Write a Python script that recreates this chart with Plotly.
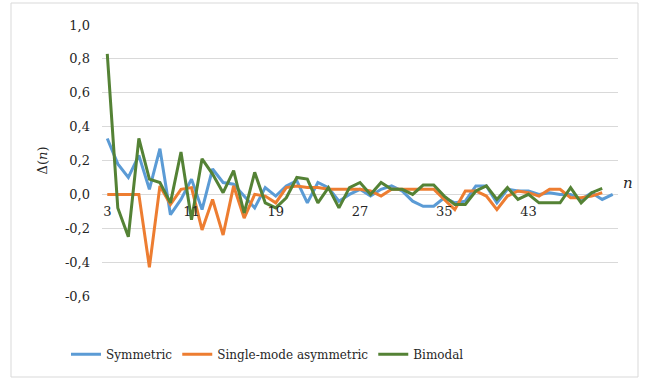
import plotly.graph_objects as go

n_values = list(range(3, 52))
x_tick_values = [3, 11, 19, 27, 35, 43]

symmetric = [0.33, 0.18, 0.10, 0.23, 0.03, 0.27, -0.12, -0.03, 0.09, -0.09,
             0.15, 0.07, 0.06, -0.01, -0.08, 0.04, -0.01, 0.05, 0.08, -0.05,
             0.07, 0.04, -0.04, 0.00, 0.03, -0.01, 0.03, 0.05, 0.02, -0.04,
             -0.07, -0.07, -0.02, -0.05, -0.04, 0.05, 0.05, -0.05, 0.03, 0.02,
             0.02, 0.00, 0.01, 0.00, 0.00, -0.03, 0.01, -0.03, 0.00]

single_mode = [0.00, 0.00, 0.00, 0.00, -0.43, 0.05, -0.06, 0.03, 0.04, -0.21,
               -0.03, -0.24, 0.05, -0.14, 0.00, -0.01, -0.05, 0.04, 0.05, 0.04,
               0.04, 0.03, 0.03, 0.03, 0.03, 0.02, -0.01, 0.03, 0.03, 0.03,
               0.03, 0.03, -0.03, -0.09, 0.02, 0.02, -0.01, -0.09, -0.01, 0.02,
               0.01, -0.01, 0.03, 0.03, -0.02, -0.02, -0.01, 0.01]

bimodal = [0.83, -0.08, -0.25, 0.33, 0.09, 0.07, -0.05, 0.25, -0.15, 0.21,
           0.12, 0.01, 0.14, -0.11, 0.13, -0.05, -0.08, -0.02, 0.10, 0.09,
           -0.05, 0.04, -0.08, 0.04, 0.07, 0.00, 0.07, 0.03, 0.03, 0.00,
           0.055, 0.055, -0.01, -0.06, -0.06, 0.02, 0.05, -0.03, 0.04, -0.03,
           0.00, -0.05, -0.05, -0.05, 0.04, -0.05, 0.01, 0.035]

series_names = ["Symmetric", "Single-mode asymmetric", "Bimodal"]
series_colors = ["#5B9BD5", "#ED7D31", "#548235"]
series_data = [symmetric, single_mode, bimodal]

y_ticks = [-0.6, -0.4, -0.2, 0.0, 0.2, 0.4, 0.6, 0.8, 1.0]
y_tick_labels = ["-0,6", "-0,4", "-0,2", "0,0", "0,2", "0,4", "0,6", "0,8", "1,0"]

FONT = "DejaVu Serif"
TXT = "#262626"

fig = go.Figure()
for name, color, vals in zip(series_names, series_colors, series_data):
    fig.add_trace(go.Scatter(
        x=n_values[:len(vals)], y=vals, mode="lines", name=name,
        line=dict(color=color, width=3),
    ))

y_lo, y_hi = -0.6, 1.0
plot_w, plot_h = 648 - 102 - 30, 381 - 25 - 85
fig.update_layout(
    width=648, height=381,
    margin=dict(l=102, r=30, t=25, b=85),
    paper_bgcolor="white", plot_bgcolor="white",
    font=dict(family=FONT, size=13, color=TXT),
    showlegend=True,
    legend=dict(orientation="h", x=(66 - 102) / plot_w, xanchor="left",
                y=-0.215, yanchor="middle",
                font=dict(family=FONT, size=12, color=TXT), itemwidth=30,
                bgcolor="rgba(0,0,0,0)"),
    xaxis=dict(
        range=[2.5, 51.5], tickvals=x_tick_values,
        showgrid=False, zeroline=False, showline=False,
        anchor="free", position=(0 - y_lo) / (y_hi - y_lo),
        ticks="", ticklabelstandoff=8,
        tickfont=dict(family=FONT, size=13, color=TXT),
    ),
    yaxis=dict(
        range=[y_lo, y_hi], tickvals=y_ticks, ticktext=y_tick_labels,
        showgrid=True, gridcolor="#d9d9d9", gridwidth=1,
        zeroline=True, zerolinecolor="#d9d9d9", zerolinewidth=1,
        showline=False, ticks="", ticklabelstandoff=11,
        tickfont=dict(family=FONT, size=13, color=TXT),
        title=dict(text="Δ(<i>n</i>)", standoff=14,
                   font=dict(family=FONT, size=13, color=TXT)),
    ),
)

fig.add_annotation(
    x=1.0, xref="paper", y=0, yref="y", text="<i>n</i>", showarrow=False,
    xanchor="left", yanchor="bottom", xshift=3,
    font=dict(family=FONT, size=15, color=TXT),
)

# outer chart border
fig.add_shape(
    type="rect", xref="paper", yref="paper",
    x0=(11 - 102) / plot_w, x1=(638 - 102) / plot_w,
    y0=(296 - 377) / plot_h, y1=(296 - 3) / plot_h,
    line=dict(color="#d9d9d9", width=1), fillcolor="rgba(0,0,0,0)", layer="below",
)

fig.write_html("out.html", config={"displayModeBar": False},
               post_script="document.body.style.margin='0';")
